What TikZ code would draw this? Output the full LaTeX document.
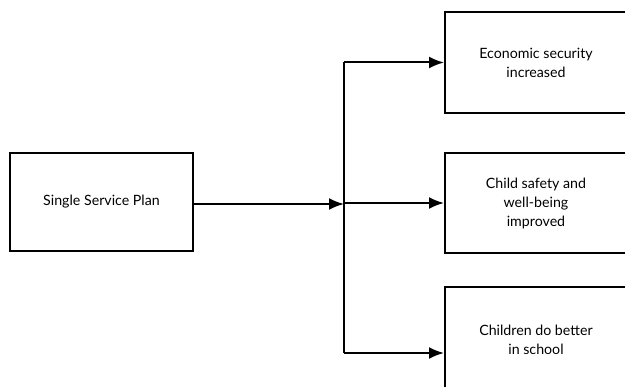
\documentclass[tikz,border=0pt]{standalone}
\usepackage{fontspec}
\setmainfont{Lato}
\usetikzlibrary{arrows.meta,positioning}

\begin{document}
\begin{tikzpicture}[
		x=1pt, y=1pt,
		>={Latex[length=15pt,width=12pt]},
		line width=2pt,
		font=\fontsize{14.2}{19}\selectfont,
		outcome/.style={
			rectangle,
			draw=black,
			text centered,
			align=center,
			minimum width=182pt,
			inner sep=0pt,
			fill=white
		}
		]
		\useasboundingbox (0,0) rectangle (625,-387);
		% plan on the left, outcomes on the right
		
		\node [outcome, minimum width=183pt, minimum height=98pt] (plan) at (101.5,-202)
		{Single Service Plan};
		
		\node [outcome, minimum height=101pt] (econ) at (536,-62.5)
		{Economic security\\increased};
		
		\node [outcome, minimum height=100pt] (safety) at (536,-203)
		{Child safety and\\well-being\\improved};
		
		\node [outcome, minimum height=106pt] (school) at (536,-340)
		{Children do better\\in school};
		
		\coordinate (hub) at (344,-204);
		\coordinate (schoolin) at ([yshift=-13pt]school.west);
		
		\draw [->] (plan.east |- hub) -- (hub);
		\draw (hub |- econ.west) -- (hub |- schoolin);
		\draw [->] (hub |- econ.west) -- (econ.west);
		\draw [->] (hub |- safety.west) -- (safety.west);
		\draw [->] (hub |- schoolin) -- (schoolin);
		
\end{tikzpicture}
\end{document}
